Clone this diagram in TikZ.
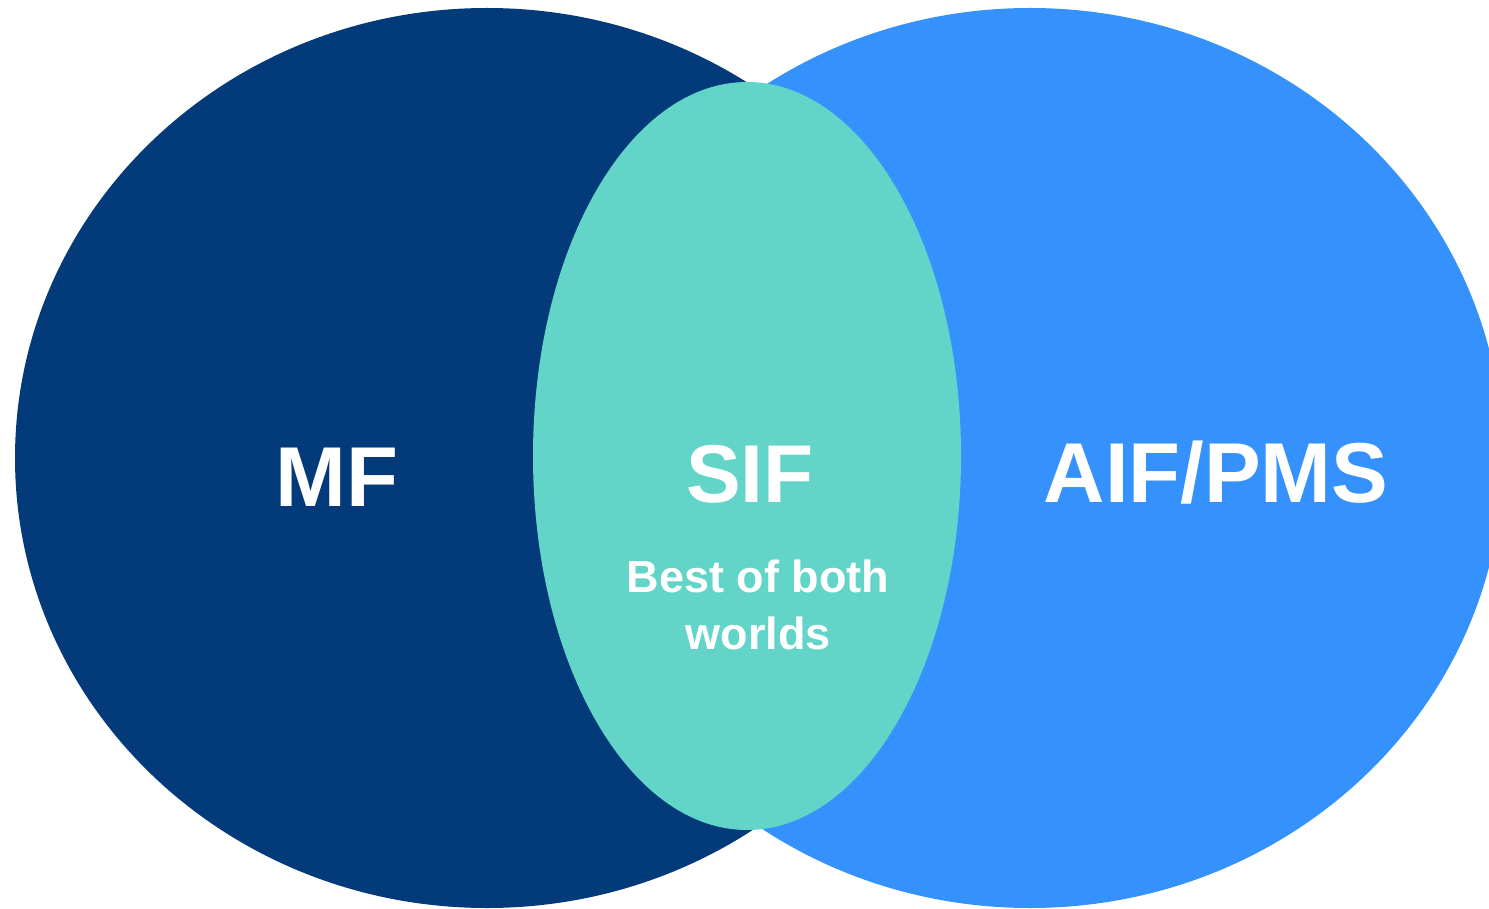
\documentclass[tikz,border=0pt]{standalone}
\usepackage{fontspec}
\setmainfont{Liberation Sans}
\usepackage{tikz}
\usetikzlibrary{positioning}
\usetikzlibrary{shapes.geometric}

\definecolor{MFBlue}{RGB}{3,58,122}
\definecolor{PMSBlue}{RGB}{53,146,252}
\definecolor{SIFTeal}{RGB}{98,213,200}

\begin{document}
\begin{tikzpicture}[x=1pt, y=-1pt]
	\useasboundingbox (0,0) rectangle (1489,909);
	
	\node[
	ellipse,
	fill=MFBlue,
	inner sep=0pt,
	minimum width=944pt,
	minimum height=900pt
	] (MF-Set) at (487,458) {};
	
	% ---
	
	\node[
	ellipse,
	fill=PMSBlue,
	inner sep=0pt,
	minimum width=946pt,
	minimum height=900pt
	] (PMS-Set) at (1030,458) {};
	
	% ---
	
	\node[
	ellipse,
	fill=SIFTeal,
	inner sep=0pt,
	minimum width=428pt,
	minimum height=748pt
	] (SIF-Set) at (747,456) {};
	
	% ---
	
	\node[
	anchor=base,
	text=white,
	font=\bfseries\fontsize{85}{90}\selectfont
	] (MF-Label) at (337,506) {MF};
	
	\node[
	anchor=base,
	text=white,
	font=\bfseries\fontsize{82}{90}\selectfont
	] (SIF-Label) at (750,502) {SIF};
	
	\node[
	anchor=base,
	text=white,
	font=\bfseries\fontsize{85}{90}\selectfont
	] (PMS-Label) at (1216,502) {AIF/PMS};
	
	% ---
	
	\node[
	anchor=base,
	text=white,
	font=\bfseries\fontsize{45}{57}\selectfont
	] (SIF-Best) at (758,592) {Best of both};
	
	\node[
	anchor=base,
	text=white,
	font=\bfseries\fontsize{45}{57}\selectfont
	] (SIF-Worlds) at (758,649) {worlds};
\end{tikzpicture}
\end{document}
